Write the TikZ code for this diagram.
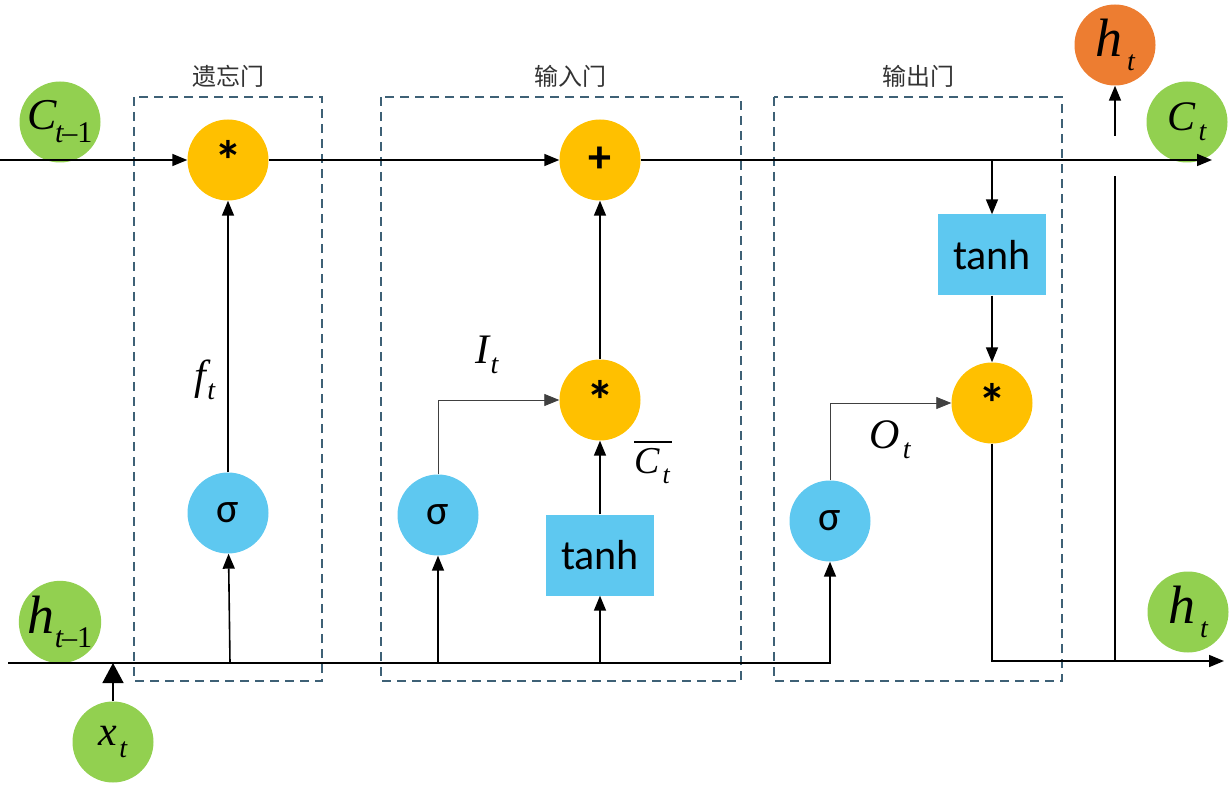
\documentclass[tikz,border=0pt]{standalone}
\usepackage{fontspec}
\setmainfont{Liberation Serif}
\newfontfamily\cjkf{Noto Sans CJK SC}
\newfontfamily\calib{Carlito}
\usetikzlibrary{arrows.meta}
\definecolor{cgreen}{HTML}{92D050}
\definecolor{cyellow}{HTML}{FFC000}
\definecolor{cblue}{HTML}{5EC8F0}
\definecolor{corange}{HTML}{ED7D31}
\definecolor{cdash}{HTML}{3E6176}
\tikzset{
  circ/.style={circle, minimum size=81pt, inner sep=0pt, draw=none},
  gcirc/.style={circ, fill=cgreen},
  ocirc/.style={circ, fill=corange},
  ycirc/.style={circ, fill=cyellow, font=\calib\fontsize{40}{40}\selectfont},
  bcirc/.style={circ, fill=cblue, font=\calib\fontsize{42}{42}\selectfont},
  tbox/.style={rectangle, fill=cblue, minimum width=108pt, minimum height=81pt, inner sep=0pt, font=\calib\fontsize{42}{42}\selectfont},
  gatebox/.style={draw=cdash, dash pattern=on 9pt off 6pt, line width=1.3pt},
  gatelabel/.style={font=\cjkf\fontsize{24}{24}\selectfont, text=black!80},
  mainline/.style={line width=1.6pt},
  mainarrow/.style={line width=1.6pt, -{Triangle[length=15pt,width=12pt]}},
  thinarrow/.style={line width=0.8pt, draw=black!75, -{Triangle[length=15pt,width=12pt]}},
  varlabel/.style={font=\fontsize{42}{42}\selectfont\itshape, inner sep=0pt},
}
\begin{document}
\begin{tikzpicture}[x=1pt,y=-1pt]
\useasboundingbox (0,0) rectangle (1229,786);
% gate boxes
\draw[gatebox] (134,97) rectangle (322,681);
\draw[gatebox] (381,97) rectangle (741,681);
\draw[gatebox] (774,97) rectangle (1062,681);
\node[gatelabel] (lf) at (228,76) {遗忘门};
\node[gatelabel] (li) at (570,76) {输入门};
\node[gatelabel] (lo) at (918,76) {输出门};
% state circles
\node[gcirc] (cprev) at (60,122) {\fontsize{44}{44}\selectfont\itshape C\kern-2pt\raisebox{-13pt}{\fontsize{30}{30}\selectfont t\upshape\kern-1pt–1}};
\node[gcirc] (hprev) at (60,622) {\fontsize{54}{54}\selectfont\itshape h\raisebox{-14pt}{\fontsize{30}{30}\selectfont t\upshape\kern-1pt–1}};
\node[gcirc] (xt) at (113,742) {\fontsize{42}{42}\selectfont\itshape x\kern2pt\raisebox{-12pt}{\fontsize{28}{28}\selectfont t}};
\node[ocirc] (hout) at (1115,45) {\fontsize{54}{54}\selectfont\itshape h\kern5pt\raisebox{-14pt}{\fontsize{28}{28}\selectfont t}};
\node[gcirc] (cnext) at (1187,122) {\fontsize{42}{42}\selectfont\itshape C\kern3pt\raisebox{-10pt}{\fontsize{28}{28}\selectfont t}};
\node[gcirc] (hnext) at (1188,612) {\fontsize{54}{54}\selectfont\itshape h\kern5pt\raisebox{-14pt}{\fontsize{28}{28}\selectfont t}};
% operation nodes
\node[ycirc] (fstar) at (228,160) {\raisebox{-14pt}{\fontsize{56}{56}\selectfont\bfseries *}};
\node[ycirc] (plus) at (600,160) {\fontsize{46}{46}\selectfont\bfseries +};
\node[ycirc] (istar) at (600,400) {\raisebox{-14pt}{\fontsize{56}{56}\selectfont\bfseries *}};
\node[ycirc] (ostar) at (992,403) {\raisebox{-14pt}{\fontsize{56}{56}\selectfont\bfseries *}};
\node[bcirc] (fsig) at (228,513) {σ};
\node[bcirc] (isig) at (438,515) {σ};
\node[bcirc] (osig) at (830,521) {σ};
\node[tbox] (itanh) at (600,555) {tanh};
\node[tbox] (otanh) at (992,255) {tanh};
% labels
\node[varlabel] (ft) at (205,380) {f\kern1pt\raisebox{-10pt}{\fontsize{28}{28}\selectfont t}};
\node[varlabel] (It) at (487,355) {I\kern1pt\raisebox{-10pt}{\fontsize{28}{28}\selectfont t}};
\node[varlabel] (Ot) at (890,440) {O\kern3pt\raisebox{-10pt}{\fontsize{28}{28}\selectfont t}};
\node[varlabel, font=\fontsize{38}{38}\selectfont\itshape] (Ct) at (652,466) {C\kern3pt\raisebox{-10pt}{\fontsize{26}{26}\selectfont t}};
\draw[line width=1.2pt] ([xshift=-18pt,yshift=6pt]Ct.north) -- ([xshift=20pt,yshift=6pt]Ct.north);
% coordinates
\coordinate (c0) at (0,160);
\coordinate (cend) at (1212,160);
\coordinate (h0) at (8,663);
\coordinate (hend) at (1224,661);
\coordinate (vb) at (1115,661);
\coordinate (vt) at (1115,176);
\coordinate (vt2) at (1115,136);
\coordinate (ot) at (992,160);
\coordinate (bf) at (230,663);
\coordinate (bi) at (438,663);
\coordinate (bt) at (600,663);
\coordinate (bx) at (113,663);
% cell state line
\draw[mainarrow] (c0) -- (fstar);
\draw[mainarrow] (fstar) -- (plus);
\draw[mainarrow] (plus) -- (cend);
% forget gate
\draw[mainarrow] (fsig) -- (fstar);
\draw[mainarrow] (bf) -- (fsig);
% input gate
\draw[mainarrow] (bi) -- (isig);
\draw[mainarrow] (bt) -- (itanh);
\draw[mainarrow] (itanh) -- (istar);
\draw[mainarrow] (istar) -- (plus);
\draw[thinarrow] (isig) |- (istar);
% output gate
\draw[mainarrow] (h0) -| (osig);
\draw[mainarrow] (ot) -- (otanh);
\draw[mainarrow] (otanh) -- (ostar);
\draw[thinarrow] (osig) |- (ostar);
\draw[mainarrow] (ostar) |- (hend);
\draw[mainline] (vb) -- (vt);
\draw[mainarrow] (vt2) -- (hout);
% input x_t
\draw[line width=1.6pt, -{Triangle[length=20pt,width=21pt]}] (xt) -- (bx);
\end{tikzpicture}
\end{document}
